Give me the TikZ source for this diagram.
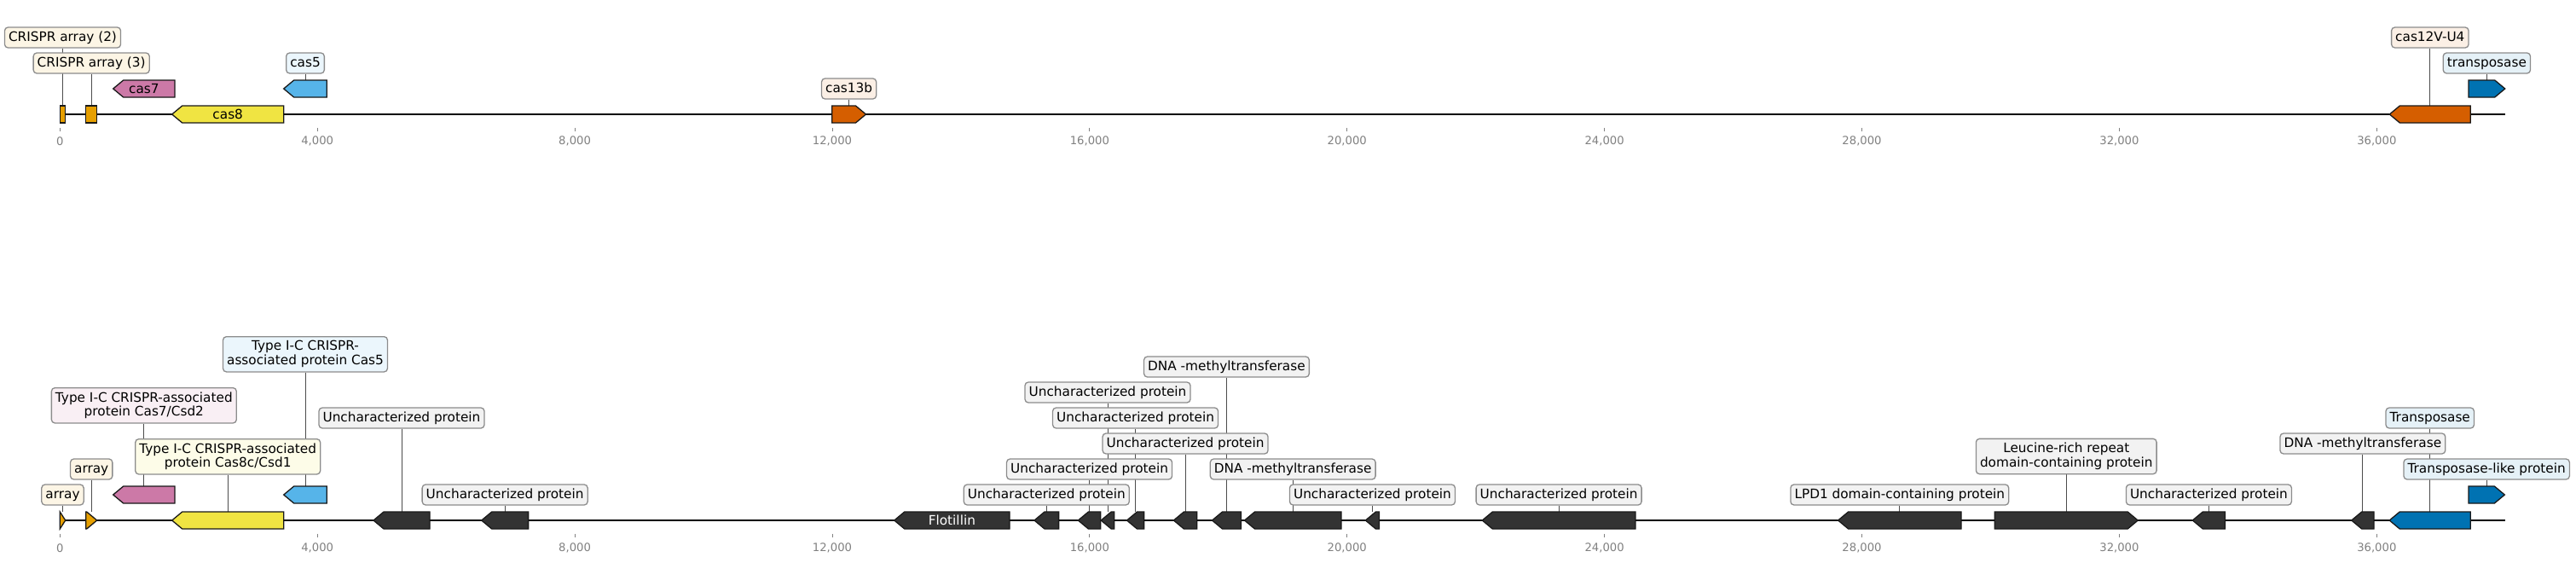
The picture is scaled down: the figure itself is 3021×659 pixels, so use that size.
\documentclass[tikz,border=0pt]{standalone}
\usepackage{fontspec}
\setmainfont{DejaVu Sans}
\definecolor{cOr}{HTML}{E69F00}
\definecolor{cSky}{HTML}{56B4E9}
\definecolor{cYel}{HTML}{F0E442}
\definecolor{cBlu}{HTML}{0072B2}
\definecolor{cVer}{HTML}{D55E00}
\definecolor{cPin}{HTML}{CC79A7}
\definecolor{cDk}{HTML}{333333}
\definecolor{lGr}{HTML}{F2F2F2}
\pgfdeclarelayer{back}
\pgfsetlayers{back,main}
\tikzset{
 gene/.style={draw=black!90, line width=1.3pt, line join=miter},
 labbase/.style={draw=black!45, line width=1.3pt, rounded corners=4pt, inner xsep=4.6pt, font=\fontsize{15.3}{16.8}\selectfont},
 lab/.style={labbase, inner ysep=4.5pt, text height=11.6pt, text depth=3.4pt},
 labtwo/.style={labbase, align=center, inner ysep=3pt, minimum height=41.3pt},
 conn/.style={draw=black!70, line width=0.9pt},
 track/.style={draw=black, line width=2.6pt},
 tickm/.style={draw=black!50, line width=0.9pt},
 ticklab/.style={text=black!50, font=\fontsize{13.2}{15}\selectfont, inner sep=0pt},
 inlab/.style={font=\fontsize{15.3}{16.8}\selectfont, inner sep=0pt},
}
% left-pointing gene: name, tip x, right x, centre y, fill
\newcommand{\geneLeft}[5]{%
 \pgfmathsetmacro\gnb{min(#2+12,#3)}%
 \draw[gene,fill=#5] (#2,#4) -- (\gnb,#4-10) -- (#3,#4-10) -- (#3,#4+10) -- (\gnb,#4+10) -- cycle;
 \coordinate (#1) at ({(#2+#3)/2},#4-10);
 \coordinate (#1c) at ({(#2+#3)/2},#4);}
% right-pointing gene: name, left x, tip x, centre y, fill
\newcommand{\geneRight}[5]{%
 \pgfmathsetmacro\gnb{max(#3-12,#2)}%
 \draw[gene,fill=#5] (#2,#4-10) -- (\gnb,#4-10) -- (#3,#4) -- (\gnb,#4+10) -- (#2,#4+10) -- cycle;
 \coordinate (#1) at ({(#2+#3)/2},#4-10);
 \coordinate (#1c) at ({(#2+#3)/2},#4);}
% box gene
\newcommand{\geneBox}[5]{%
 \draw[gene,fill=#5] (#2,#4-10) rectangle (#3,#4+10);
 \coordinate (#1) at ({(#2+#3)/2},#4-10);
 \coordinate (#1c) at ({(#2+#3)/2},#4);}
% label: name, gene name, y, fill, text
\newcommand{\glab}[5]{%
 \node[lab, fill=#4] (#1) at (#2 |- 0,#3) {#5};
 \begin{pgfonlayer}{back}\draw[conn] (#1.south) -- (#2);\end{pgfonlayer}}
\newcommand{\glabtwo}[5]{%
 \node[labtwo, fill=#4] (#1) at (#2 |- 0,#3) {#5};
 \begin{pgfonlayer}{back}\draw[conn] (#1.south) -- (#2);\end{pgfonlayer}}
\begin{document}
\begin{tikzpicture}[x=1pt,y=-1pt]
\useasboundingbox (0,0) rectangle (3021,659);
% tracks
\coordinate (tS) at (70.3,134); \coordinate (tE) at (2937.7,134);
\coordinate (bS) at (70.3,610); \coordinate (bE) at (2937.5,610);
\begin{pgfonlayer}{back}
\draw[track] (tS) -- (tE);
\draw[track] (bS) -- (bE);
\end{pgfonlayer}
% ticks
\foreach \i/\t in {0/0,1/{4,000},2/{8,000},3/{12,000},4/{16,000},5/{20,000},6/{24,000},7/{28,000},8/{32,000},9/{36,000}}{
 \pgfmathsetmacro\tx{70.3+\i*301.89}
 \draw[tickm] (\tx,149.5) -- (\tx,154);
 \node[ticklab] (tt\i) at (\tx,165.7) {\t};
 \draw[tickm] (\tx,625.7) -- (\tx,630);
 \node[ticklab] (bt\i) at (\tx,642.3) {\t};
}
% ---------- top track ----------
\geneBox{tA2}{70.3}{76.7}{134}{cOr}
\geneBox{tA3}{100.7}{113.7}{134}{cOr}
\geneLeft{tc7}{132.7}{205}{104}{cPin}
\geneLeft{tc8}{201.7}{332.7}{134}{cYel}
\geneLeft{tc5}{332.7}{383.3}{104}{cSky}
\geneRight{tc13}{975.7}{1015.5}{134}{cVer}
\geneLeft{tc12}{2802.3}{2897.3}{134}{cVer}
\geneRight{ttn}{2895}{2937.7}{104}{cBlu}
\node[inlab] (ntc7) at (tc7c) {cas7};
\node[inlab] (ntc8) at (tc8c) {cas8};
\glab{ltA2}{tA2}{44}{cOr!10!white}{CRISPR array (2)}
\glab{ltA3}{tA3}{74}{cOr!10!white}{CRISPR array (3)}
\glab{ltc5}{tc5}{74}{cSky!12!white}{cas5}
\glab{ltc13}{tc13}{104}{cVer!10!white}{cas13b}
\glab{ltc12}{tc12}{44}{cVer!10!white}{cas12V-U4}
\glab{lttn}{ttn}{74}{cBlu!10!white}{transposase}
% ---------- bottom track ----------
\geneRight{bA1}{70.3}{76.7}{610}{cOr}
\geneRight{bA2}{100.7}{113.7}{610}{cOr}
\geneLeft{bc7}{132.7}{205}{580}{cPin}
\geneLeft{bc8}{201.7}{332.7}{610}{cYel}
\geneLeft{bc5}{332.7}{383.3}{580}{cSky}
\geneLeft{u1}{438}{504}{610}{cDk}
\geneLeft{u2}{564.7}{619.6}{610}{cDk}
\geneLeft{flo}{1048.75}{1184}{610}{cDk}
\geneLeft{gA}{1213}{1241.6}{610}{cDk}
\geneLeft{gB}{1264.4}{1290.7}{610}{cDk}
\geneLeft{gC}{1291.2}{1306.8}{610}{cDk}
\geneLeft{gD}{1321.5}{1341.6}{610}{cDk}
\geneLeft{gE}{1376.4}{1403.7}{610}{cDk}
\geneLeft{gF}{1421.5}{1455.4}{610}{cDk}
\geneLeft{gG}{1459.5}{1572.9}{610}{cDk}
\geneLeft{gH}{1601.4}{1617.5}{610}{cDk}
\geneLeft{gI}{1738.3}{1917.9}{610}{cDk}
\geneLeft{lpd}{2155.6}{2300}{610}{cDk}
\geneRight{lrr}{2339.3}{2507.2}{610}{cDk}
\geneLeft{gJ}{2571.3}{2609.5}{610}{cDk}
\geneLeft{dnm}{2757.7}{2784}{610}{cDk}
\geneLeft{tnp}{2802.2}{2897.2}{610}{cBlu}
\geneRight{tnl}{2895}{2937.3}{580}{cBlu}
\node[inlab, text=white] (nflo) at (floc) {Flotillin};
\glab{lbA1}{bA1}{580}{cOr!10!white}{array}
\glab{lbA2}{bA2}{550}{cOr!10!white}{array}
\glabtwo{lbc7}{bc7}{475.3}{cPin!12!white}{Type I-C CRISPR-associated\\protein Cas7/Csd2}
\glabtwo{lbc8}{bc8}{535.3}{cYel!12!white}{Type I-C CRISPR-associated\\protein Cas8c/Csd1}
\glabtwo{lbc5}{bc5}{415.3}{cSky!12!white}{Type I-C CRISPR-\\associated protein Cas5}
\glab{lu1}{u1}{490}{lGr}{Uncharacterized protein\ }
\glab{lu2}{u2}{580}{lGr}{Uncharacterized protein\ }
\glab{lgA}{gA}{580}{lGr}{Uncharacterized protein\ }
\glab{lgB}{gB}{550}{lGr}{Uncharacterized protein\ }
\glab{lgC}{gC}{460}{lGr}{Uncharacterized protein\ }
\glab{lgD}{gD}{490}{lGr}{Uncharacterized protein\ }
\glab{lgE}{gE}{520}{lGr}{Uncharacterized protein\ }
\glab{lgF}{gF}{430}{lGr}{DNA -methyltransferase\ }
\glab{lgG}{gG}{550}{lGr}{DNA -methyltransferase\ }
\glab{lgH}{gH}{580}{lGr}{Uncharacterized protein\ }
\glab{lgI}{gI}{580}{lGr}{Uncharacterized protein\ }
\glab{llpd}{lpd}{580}{lGr}{LPD1 domain-containing protein}
\glabtwo{llrr}{lrr}{535}{lGr}{Leucine-rich repeat\\domain-containing protein}
\glab{lgJ}{gJ}{580}{lGr}{Uncharacterized protein\ }
\glab{ldnm}{dnm}{520}{lGr}{DNA -methyltransferase\ }
\glab{ltnp}{tnp}{490}{cBlu!10!white}{Transposase}
\glab{ltnl}{tnl}{550}{cBlu!10!white}{Transposase-like protein}
\end{tikzpicture}
\end{document}
